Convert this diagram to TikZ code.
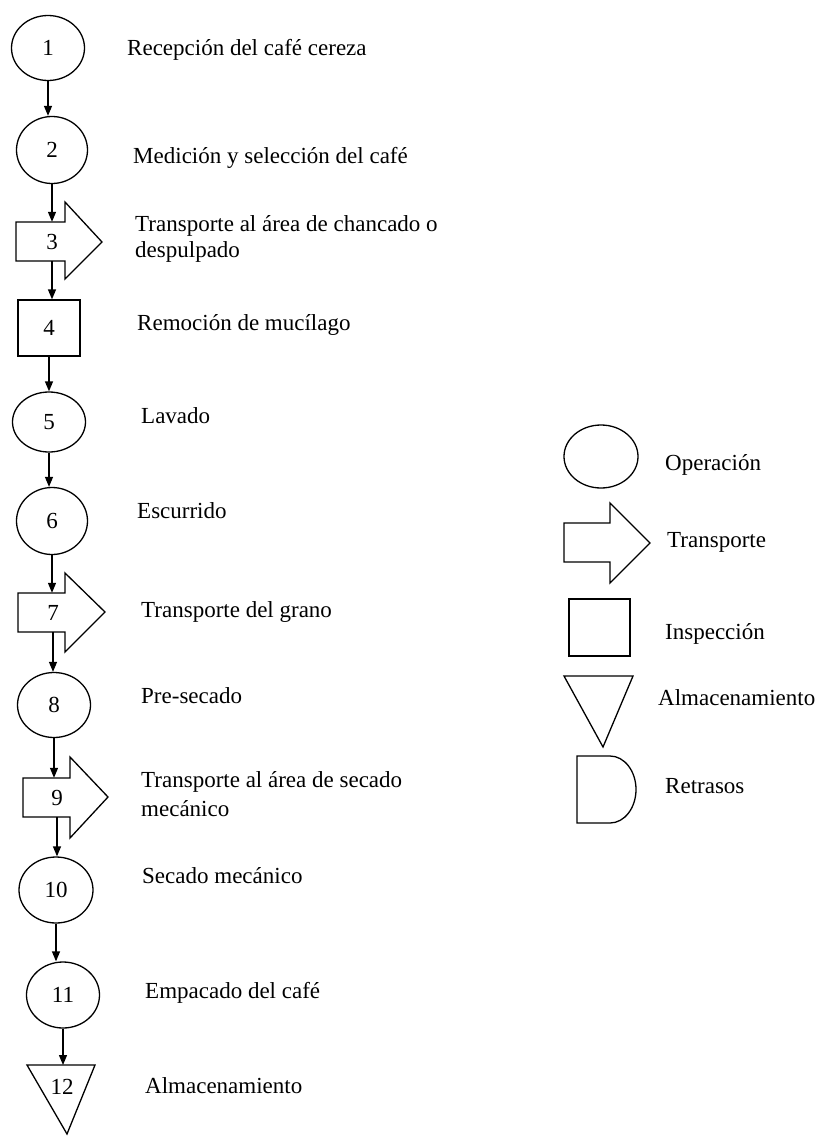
\documentclass[tikz,border=0pt]{standalone}
\usepackage{fontspec}
\setmainfont{Liberation Serif}
\usetikzlibrary{shapes.geometric,arrows.meta}
\begin{document}
\begin{tikzpicture}[x=1pt,y=-1pt,
  shp/.style={draw, line width=1.3pt, inner sep=0pt},
  oper/.style={shp, ellipse, font=\fontsize{23}{26}\selectfont},
  insp/.style={shp, rectangle, font=\fontsize{23}{26}\selectfont},
  tbody/.style={rectangle, inner sep=0pt, minimum height=39pt, minimum width=20pt, font=\fontsize{23}{26}\selectfont},
  num/.style={inner sep=0pt, font=\fontsize{23}{26}\selectfont},
  flow/.style={line width=1.3pt, -{Triangle[length=10pt,width=8pt]}},
  lbl/.style={anchor=base west, inner sep=0pt, font=\fontsize{23}{26}\selectfont}]
\useasboundingbox (0,0) rectangle (820,1137);

% process chart
\node[oper, minimum width=73pt, minimum height=65pt] (e1) at (48,48) {1};
\node[oper, minimum width=71pt, minimum height=67pt] (e2) at (52,150) {2};
\draw[shp] (16,222) -- (65,222) -- (65,202) -- (102,242) -- (65,279) -- (65,261) -- (16,261) -- cycle;
\node[tbody] (t3) at (52,241.5) {3};
\node[insp, minimum width=62pt, minimum height=56pt] (r4) at (49,328) {4};
\node[oper, minimum width=73pt, minimum height=60pt] (e5) at (49,422) {5};
\node[oper, minimum width=71pt, minimum height=67pt] (e6) at (52,521) {6};
\draw[shp] (18,593) -- (65,593) -- (65,573) -- (105,612) -- (65,652) -- (65,632) -- (18,632) -- cycle;
\node[tbody] (t7) at (53,612.5) {7};
\node[oper, minimum width=73pt, minimum height=65pt] (e8) at (54,705) {8};
\draw[shp] (23,778) -- (70,778) -- (70,757) -- (108,797) -- (70,838) -- (70,817) -- (23,817) -- cycle;
\node[tbody] (t9) at (57,797.5) {9};
\node[oper, minimum width=74pt, minimum height=66pt] (e10) at (56,890) {10};
\node[oper, minimum width=73pt, minimum height=66pt] (e11) at (63,995) {11};
\draw[shp] (27,1065) -- (95,1065) -- (67,1134) -- cycle;
\coordinate (tri12) at (62,1065);
\node[num] (t12) at (62,1087) {12};

\draw[flow] (e1.south) -- (e1.south |- e2.north);
\draw[flow] (e2.south) -- (e2.south |- t3.north);
\draw[flow] (t3.south) -- (t3.south |- r4.north);
\draw[flow] (r4.south) -- (r4.south |- e5.north);
\draw[flow] (e5.south) -- (e5.south |- e6.north);
\draw[flow] (e6.south) -- (e6.south |- t7.north);
\draw[flow] (t7.south) -- (t7.south |- e8.north);
\draw[flow] (e8.south) -- (e8.south |- t9.north);
\draw[flow] (t9.south) -- (t9.south |- e10.north);
\draw[flow] (e10.south) -- (e10.south |- e11.north);
\draw[flow] (e11.south) -- (e11.south |- tri12);

% step labels
\node[lbl] (l1) at (127,56) {Recepción del café cereza};
\node[lbl] (l2) at (133,163) {Medición y selección del café};
\node[lbl] (l3) at (135,231) {Transporte al área de chancado o};
\node[lbl] (l3b) at (135,257) {despulpado};
\node[lbl] (l4) at (137,330) {Remoción de mucílago};
\node[lbl] (l5) at (141,423) {Lavado};
\node[lbl] (l6) at (137,518) {Escurrido};
\node[lbl] (l7) at (141,617) {Transporte del grano};
\node[lbl] (l8) at (141,703) {Pre-secado};
\node[lbl] (l9) at (141,787) {Transporte al área de secado};
\node[lbl] (l9b) at (141,816) {mecánico};
\node[lbl] (l10) at (142,883) {Secado mecánico};
\node[lbl] (l11) at (145,998) {Empacado del café};
\node[lbl] (l12) at (145,1093) {Almacenamiento};

% legend
\node[shp, ellipse, minimum width=74pt, minimum height=63pt] (lgop) at (601,456.5) {};
\draw[shp] (564,523) -- (610,523) -- (610,503) -- (650,543) -- (610,583) -- (610,562) -- (564,562) -- cycle;
\node[shp, rectangle, minimum width=61pt, minimum height=57pt] (lgin) at (599.5,627.5) {};
\draw[shp] (564,676) -- (633,676) -- (603,747) -- cycle;
\draw[shp] (577,756) -- (610,756) arc[start angle=-90, end angle=90, x radius=26, y radius=33.5] -- (577,823) -- cycle;

\node[lbl] (lg1) at (665,470) {Operación};
\node[lbl] (lg2) at (667,547) {Transporte};
\node[lbl] (lg3) at (665,639) {Inspección};
\node[lbl] (lg4) at (658,705) {Almacenamiento};
\node[lbl] (lg5) at (665,793) {Retrasos};
\end{tikzpicture}
\end{document}
